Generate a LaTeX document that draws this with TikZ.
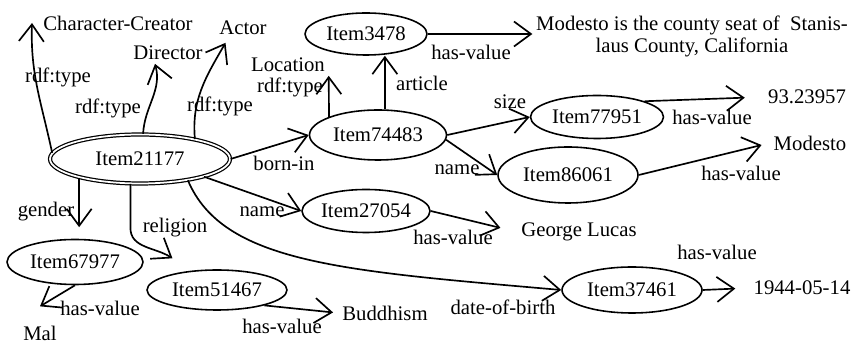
\documentclass[tikz,border=0pt]{standalone}
\usepackage{fontspec}
\setmainfont{Liberation Serif}
\usetikzlibrary{positioning}
\usetikzlibrary{arrows.meta}
\usetikzlibrary{shapes.geometric}

\begin{document}
\begin{tikzpicture}[
    x=0.02cm, y=0.02cm,
    font={\fontsize{11.8pt}{12.5pt}\selectfont},
% Item style
    item/.style={ellipse,draw,line width=0.9pt,inner sep=0pt},
    root/.style={item,double,double distance=1pt,line width=0.7pt},
    val/.style={inner sep=2pt},
    lbl/.style={inner sep=0pt},
    arr/.style={line width=0.95pt,-{Straight Barb[length=0.34cm,width=0.5cm]}}
    ]

  \useasboundingbox (0,0) rectangle (862,344);

  \node (i21177) [root,minimum width=3.6cm,minimum height=0.98cm] at (140,185) {Item21177};
  \node (i3478) [item,minimum width=2.44cm,minimum height=0.84cm] at (366,310) {Item3478};
  \node (i74483) [item,minimum width=2.74cm,minimum height=1cm] at (378,209) {Item74483};
  \node (i77951) [item,minimum width=2.66cm,minimum height=0.86cm] at (597,227) {Item77951};
  \node (i86061) [item,minimum width=2.8cm,minimum height=1.12cm] at (568,169) {Item86061};
  \node (i27054) [item,minimum width=2.56cm,minimum height=0.86cm] at (366,133) {Item27054};
  \node (i67977) [item,minimum width=2.72cm,minimum height=0.9cm] at (75,82) {Item67977};
  \node (i51467) [item,minimum width=2.8cm,minimum height=0.8cm] at (217,54) {Item51467};
  \node (i37461) [item,minimum width=2.8cm,minimum height=0.92cm] at (632,54) {Item37461};

  % values and types
  \node (cc) [val] at (118,321) {Character-Creator};
  \node (dir) [val] at (168,291) {Director};
  \node (actor) [val] at (243,316) {Actor};
  \node (loc) [val] at (288,279) {Location};
  \node (modtext) [val,align=center] at (692,308) {Modesto is the county seat of \ Stanis-\\laus County, California};
  \node (v1) [val] at (807,247) {93.23957};
  \node (v2) [val] at (810,201) {Modesto};
  \node (gl) [val] at (579,112) {George Lucas};
  \node (mal) [val] at (40,11) {Mal};
  \node (bud) [val] at (385,31) {Buddhism};
  \node (dob) [val] at (802,56) {1944-05-14};

  \draw[arr] (i21177.176) to[out=102,in=-92] ([xshift=-0.15cm]cc.west);
  \draw[arr] (i21177.83) to[out=87,in=-75] ([xshift=-0.26cm]dir.south);
  \draw[arr] (i21177.20) to[out=95,in=-120] ([xshift=0.2cm,yshift=-0.08cm]actor.south west);
  \draw[arr] (i21177.east) -- (i74483.west);
  \draw[arr] (i74483.north west) -- (loc.south east);
  \draw[arr] (i74483.75) -- (i74483.75 |- i3478.south);
  \draw[arr] (i3478.east) -- (i3478.east -| modtext.west);
  \draw[arr] (i74483.east) -- (i77951.west);
  \draw[arr] (i74483.-4) -- (i86061.west);
  \draw[arr,shorten >=0.39cm] (i77951.north east) -- (v1.west);
  \draw[arr,shorten >=0.17cm] (i86061.east) -- (v2.west);
  \draw[arr] (i21177.south east) -- (i27054.west);
  \draw[arr,shorten >=0.35cm] (i27054.east) -- (gl.west);
  \draw[arr,shorten >=0.23cm] (i21177.197) -- (i21177.197 |- i67977.north);
  \draw[arr] (i21177.249) -- ++(0,-44) to[out=-90,in=147] ([shift={(0.11cm,0.34cm)}]i51467.north west);
  \draw[arr] (i67977.south) -- ([yshift=0.31cm]mal.north);
  \draw[arr,shorten >=0.11cm] (i51467.-18) -- (bud.west);
  \draw[arr] (i21177.-24) .. controls +(-67:90) and +(175:220) .. (i37461.west);
  \draw[arr,shorten >=0.29cm] (i37461.east) -- (dob.west);

  % edge labels
  \node (t1) [lbl] at (58,267) {rdf:type};
  \node (t2) [lbl] at (108,236) {rdf:type};
  \node (t3) [lbl] at (220,238) {rdf:type};
  \node (t4) [lbl] at (290,257) {rdf:type};
  \node (bi) [lbl] at (284,181) {born-in};
  \node (ar) [lbl] at (422,261) {article};
  \node (h1) [lbl] at (471,292) {has-value};
  \node (sz) [lbl] at (510,242) {size};
  \node (n1) [lbl] at (457,174) {name};
  \node (h2) [lbl] at (712,227) {has-value};
  \node (h3) [lbl] at (741,171) {has-value};
  \node (n2) [lbl] at (262,132) {name};
  \node (h4) [lbl] at (453,107) {has-value};
  \node (gd) [lbl] at (46,132) {gender};
  \node (rl) [lbl] at (175,116) {religion};
  \node (h5) [lbl] at (100,36) {has-value};
  \node (h6) [lbl] at (282,18) {has-value};
  \node (db) [lbl] at (503,37) {date-of-birth};
  \node (h7) [lbl] at (717,92) {has-value};

\end{tikzpicture}
\end{document}
